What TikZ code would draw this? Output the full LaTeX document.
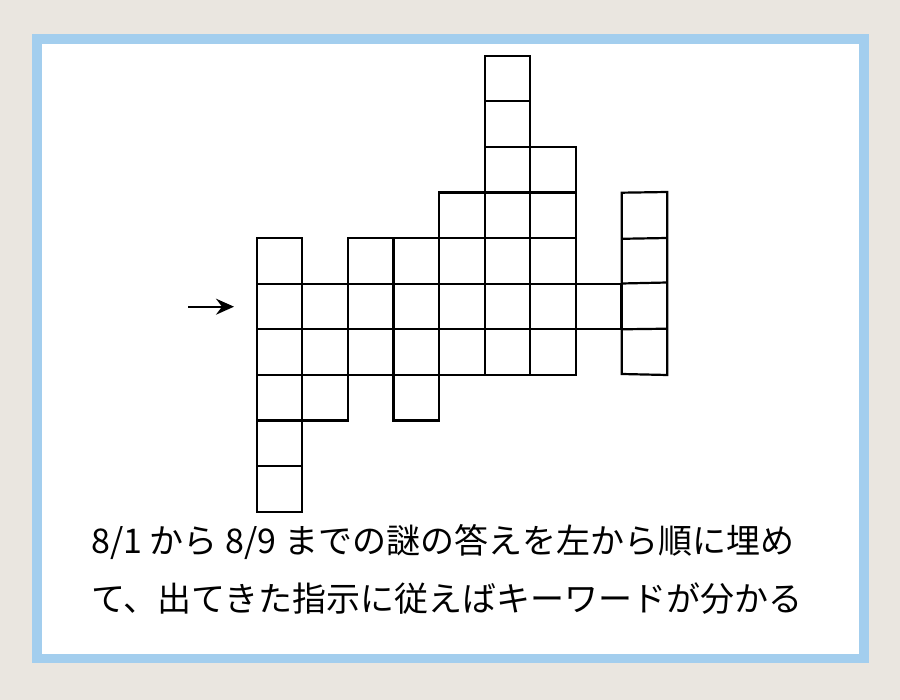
\documentclass[tikz,border=0pt]{standalone}
\usepackage{fontspec}
\newfontfamily\jpfont{Noto Sans CJK JP}
\usetikzlibrary{arrows.meta}
\definecolor{paper}{HTML}{EAE6E0}
\definecolor{frameblue}{HTML}{A3CEEE}

\begin{document}
\begin{tikzpicture}[x=1pt, y=-1pt,
    cell/.style={line width=2.2pt, line join=miter},
    note/.style={anchor=base west, inner sep=0pt, font=\jpfont\fontsize{34}{40}\selectfont}]
      % background and frame
      \fill[paper] (0,0) rectangle (900,700);
      \fill[frameblue] (32,34) rectangle (869,663);
      \fill[white] (42,44) rectangle (859,654);
      \useasboundingbox (0,0) rectangle (900,700);
      % Column 1: 6 cells
      \foreach \r in {4,...,9}
        \draw[cell] ({256.7+0*45.6},{55.7+\r*45.6}) rectangle ++(45.6,45.6);
      % Column 2: 3 cells
      \foreach \r in {5,...,7}
        \draw[cell] ({256.7+1*45.6},{55.7+\r*45.6}) rectangle ++(45.6,45.6);
      % Column 3: 3 cells
      \foreach \r in {4,...,6}
        \draw[cell] ({256.7+2*45.6},{55.7+\r*45.6}) rectangle ++(45.6,45.6);
      % Column 4: 4 cells
      \foreach \r in {4,...,7}
        \draw[cell] ({256.7+3*45.6},{55.7+\r*45.6}) rectangle ++(45.6,45.6);
      % Column 5: 4 cells
      \foreach \r in {3,...,6}
        \draw[cell] ({256.7+4*45.6},{55.7+\r*45.6}) rectangle ++(45.6,45.6);
      % Column 6: 7 cells
      \foreach \r in {0,...,6}
        \draw[cell] ({256.7+5*45.6},{55.7+\r*45.6}) rectangle ++(45.6,45.6);
      % Column 7: 5 cells
      \foreach \r in {2,...,6}
        \draw[cell] ({256.7+6*45.6},{55.7+\r*45.6}) rectangle ++(45.6,45.6);
      % Column 8: 1 cell
      \draw[cell] ({256.7+7*45.6},{55.7+5*45.6}) rectangle ++(45.6,45.6);
      % Column 9: 4 cells, a bit skewed
      \draw[cell] (621.7,192.7) -- (667.3,192) -- (667.3,375) -- (621.7,374) -- cycle;
      \foreach \yl/\yr in {238.8/238, 283.5/282.5, 329.3/328.7}
        \draw[cell] (621.7,\yl) -- (667.3,\yr);
      % start arrow
      \coordinate (arrowfrom) at (188,306.7);
      \coordinate (arrowto) at (234,306.7);
      \draw[line width=1.8pt, -{Stealth[length=18pt, width=16pt, inset=6pt]}] (arrowfrom) -- (arrowto);
      % text below
      \node[note] (line1) at (91,553) {8/1 から 8/9 までの謎の答えを左から順に埋め};
      \node[note] (line2) at (91,611) {て、出てきた指示に従えばキーワードが分かる};
    \end{tikzpicture}
\end{document}
